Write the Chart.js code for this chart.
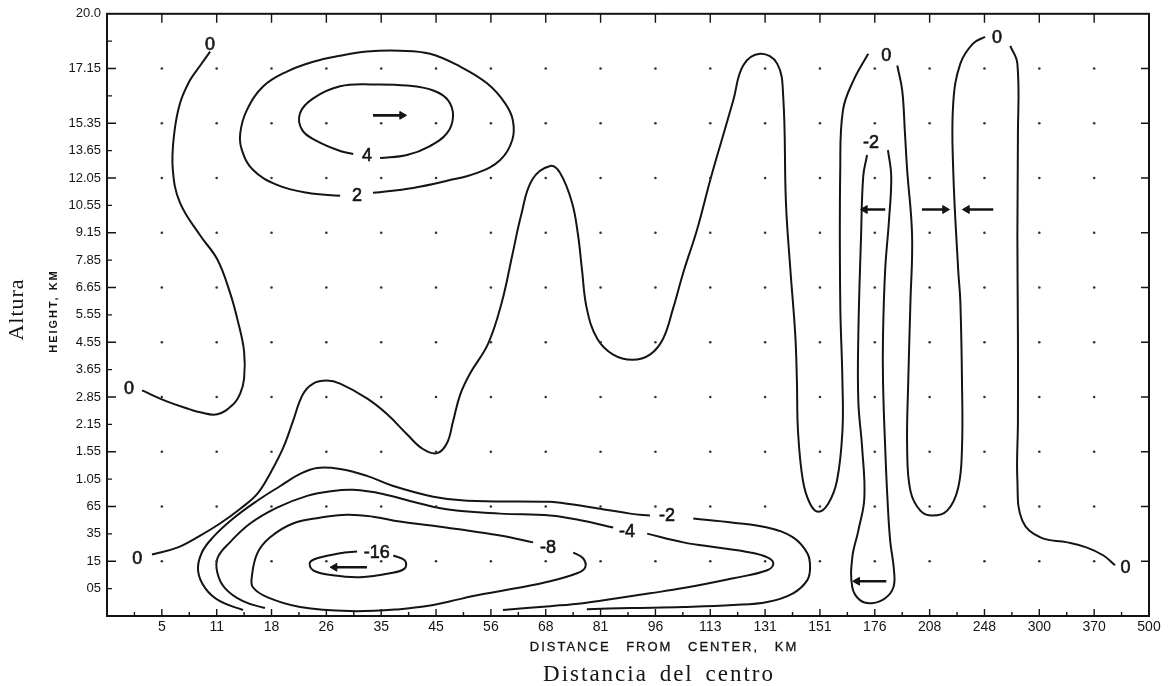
<!DOCTYPE html>
<html lang="en">
<head>
<meta charset="UTF-8">
<title>Distance from center vs height</title>
<script src="https://cdn.jsdelivr.net/npm/chart.js@4.4.1/dist/chart.umd.min.js"></script>
<style>
  html, body { margin: 0; padding: 0; background: #fff; }
  #wrap { width: 1172px; height: 686px; position: relative; }
</style>
</head>
<body>
<div id="wrap"><canvas id="chart"></canvas></div>
<script>
// The scan puts its ticks at even spacing although the values are not linear,
// so both axes run over tick index and the labels come from these lists.
const distanceTicks = ['', '5', '11', '18', '26', '35', '45', '56', '68', '81', '96',
  '113', '131', '151', '176', '208', '248', '300', '370', '500'];
const heightTicks = ['', '05', '15', '35', '65', '1.05', '1.55', '2.15', '2.85', '3.65',
  '4.55', '5.55', '6.65', '7.85', '9.15', '10.55', '12.05', '13.65', '15.35', '', '17.15', '', '20.0'];

// analysis grid (tick indices)
const gridCols = [1, 2, 3, 4, 5, 6, 7, 8, 9, 10, 11, 12, 13, 14, 15, 16, 17, 18];
const gridRows = [2, 4, 6, 8, 10, 12, 14, 16, 18, 20];

// contour lines, [distance index, height index]
const zeroTopLeft = [[1.88,20.62],[1.70,20.11],[1.51,19.56],[1.33,18.72],[1.22,17.53],[1.20,16.30],
  [1.33,15.10],[1.70,13.90],[2.01,13.03],[2.24,11.83],[2.39,10.74],[2.50,9.66],[2.50,8.68],[2.43,8.13],
  [2.30,7.73],[2.01,7.37],[1.70,7.44],[1.51,7.55],[1.09,7.84],[0.64,8.24]];
const plusTwo = [[4.85,15.46],[5.58,15.64],[6.20,15.90],[6.75,16.19],[7.17,16.66],[7.39,17.39],[7.40,18.11],
  [7.26,18.73],[6.93,19.46],[6.44,20.07],[5.89,20.54],[5.34,20.65],[4.74,20.62],[4.25,20.47],[3.76,20.25],
  [3.28,19.89],[2.85,19.35],[2.55,18.48],[2.43,17.64],[2.46,17.02],[2.66,16.30],[3.10,15.75],[3.65,15.46],[4.25,15.35]];
const plusFour = [[4.98,16.73],[5.47,16.84],[5.89,17.17],[6.20,17.64],[6.31,18.26],[6.22,18.84],[5.95,19.20],
  [5.47,19.38],[4.85,19.42],[4.25,19.35],[3.76,18.91],[3.52,18.37],[3.56,17.75],[3.83,17.35],[4.25,16.99],[4.49,16.88]];
const zeroMain = [[0.82,2.25],[1.28,2.50],[1.70,2.94],[2.06,3.38],[2.43,3.92],[2.74,4.46],[2.97,5.19],[3.21,6.13],
  [3.39,7.11],[3.57,8.09],[3.76,8.49],[4.01,8.60],[4.25,8.49],[4.74,7.95],[5.11,7.37],[5.47,6.64],[5.76,6.10],
  [6.02,5.95],[6.20,6.32],[6.31,7.11],[6.44,8.09],[6.62,8.86],[6.95,9.95],[7.20,11.47],[7.39,13.18],[7.55,14.63],
  [7.75,15.93],[8.08,16.44],[8.26,16.19],[8.48,15.10],[8.59,13.90],[8.66,12.67],[8.75,11.22],[8.94,10.13],
  [9.23,9.55],[9.58,9.36],[9.90,9.55],[10.14,10.13],[10.32,11.22],[10.51,12.56],[10.76,14.12],[11.00,15.93],
  [11.23,17.53],[11.42,18.84],[11.60,20.11],[11.91,20.54],[12.22,20.18],[12.33,18.98],[12.38,15.10],[12.46,12.67],
  [12.55,10.27],[12.58,8.57],[12.60,6.75],[12.69,4.94],[12.82,4.10],[12.97,3.81],[13.15,4.10],[13.31,4.94],
  [13.41,6.75],[13.41,8.57],[13.37,11.47],[13.37,16.30],[13.42,18.48],[13.61,19.56],[13.88,20.54]];
const zeroFinger = [[14.41,20.11],[14.50,19.20],[14.55,17.64],[14.59,16.30],[14.68,13.90],[14.65,11.47],
  [14.61,8.57],[14.59,6.13],[14.65,4.57],[14.83,3.85],[15.05,3.67],[15.32,3.85],[15.52,4.68],[15.59,6.13],
  [15.59,8.57],[15.56,11.47],[15.52,12.67],[15.43,16.30],[15.43,18.73],[15.56,20.18],[15.79,20.91],[16.01,21.16]];
const zeroOuter = [[16.47,20.83],[16.60,20.18],[16.61,17.53],[16.60,13.90],[16.61,10.27],[16.61,7.11],
  [16.60,4.94],[16.69,3.48],[17.02,2.87],[17.51,2.69],[17.87,2.50],[18.17,2.21],[18.38,1.85]];
const minusTwoFinger = [[13.86,16.84],[13.79,16.08],[13.75,13.90],[13.70,10.27],[13.70,7.84],[13.77,6.13],
  [13.81,4.32],[13.70,3.12],[13.59,2.14],[13.59,1.05],[13.73,0.58],[13.95,0.47],[14.19,0.65],[14.34,1.05],
  [14.35,1.67],[14.28,2.76],[14.23,4.32],[14.19,6.13],[14.15,8.57],[14.15,10.27],[14.19,12.67],[14.26,14.48],
  [14.30,16.08],[14.24,17.02]];
const minusTwoLeft = [[2.48,0.22],[2.06,0.54],[1.79,1.02],[1.66,1.67],[1.73,2.32],[1.93,2.87],[2.30,3.56],
  [2.74,4.21],[3.16,4.75],[3.52,5.19],[3.83,5.41],[4.25,5.37],[4.74,5.12],[5.22,4.75],[5.95,4.36],[6.57,4.21],
  [8.08,4.17],[8.39,4.10],[8.99,3.92],[9.54,3.74],[9.90,3.67]];
const minusTwoRight = [[10.69,3.56],[11.42,3.41],[12.04,3.23],[12.51,2.87],[12.77,2.29],[12.82,1.78],
  [12.77,1.31],[12.51,0.83],[12.04,0.51],[11.42,0.40],[10.51,0.33],[9.54,0.29],[8.75,0.25]];
const minusFourLeft = [[2.88,0.29],[2.48,0.54],[2.15,1.02],[2.01,1.60],[2.02,2.14],[2.24,2.69],[2.61,3.38],
  [3.10,3.96],[3.65,4.39],[4.12,4.57],[4.49,4.61],[5.03,4.46],[5.65,4.14],[6.26,3.88],[7.17,3.74],[8.08,3.67],
  [8.68,3.48],[9.23,3.23]];
const minusFourRight = [[9.85,3.01],[10.51,2.69],[11.13,2.50],[11.73,2.32],[12.04,2.14],[12.15,1.92],
  [12.04,1.67],[11.42,1.38],[10.51,1.02],[9.90,0.83],[9.30,0.65],[8.68,0.47],[8.08,0.36],[7.22,0.22]];
const minusEight = [[8.50,2.32],[8.68,2.11],[8.72,1.78],[8.57,1.56],[8.08,1.27],[7.48,1.02],[6.86,0.80],
  [6.26,0.54],[5.95,0.40],[5.34,0.25],[4.43,0.18],[3.52,0.33],[2.92,0.69],[2.66,1.05],[2.64,1.42],[2.74,2.29],
  [2.97,2.87],[3.39,3.38],[3.88,3.59],[4.38,3.70],[4.85,3.63],[5.34,3.45],[5.95,3.30],[6.57,3.12],[7.17,2.94],[7.77,2.69]];
const minusSixteen = [[5.22,2.21],[5.43,2.03],[5.43,1.74],[5.16,1.56],[4.61,1.42],[4.12,1.49],[3.76,1.67],
  [3.70,1.96],[3.88,2.14],[4.25,2.29],[4.56,2.36]];

const contourLines = [zeroTopLeft, plusTwo, plusFour, zeroMain, zeroFinger, zeroOuter, minusTwoFinger,
  minusTwoLeft, minusTwoRight, minusFourLeft, minusFourRight, minusEight, minusSixteen];

// contour values written on the lines
const contourLabels = [
  { text: '0', x: 1.88, y: 20.87 }, { text: '0', x: 0.40, y: 8.28 }, { text: '0', x: 0.55, y: 2.07 },
  { text: '2', x: 4.56, y: 15.35 }, { text: '4', x: 4.74, y: 16.81 },
  { text: '0', x: 14.21, y: 20.47 }, { text: '0', x: 16.23, y: 21.12 }, { text: '0', x: 18.57, y: 1.74 },
  { text: '-2', x: 13.93, y: 17.28 }, { text: '-2', x: 10.21, y: 3.67 }, { text: '-4', x: 9.48, y: 3.05 },
  { text: '-8', x: 8.04, y: 2.50 }, { text: '-16', x: 4.92, y: 2.29 }
];

// wind arrows: tail -> head
const arrowTails = [[4.85,18.29],[4.74,1.78],[14.21,1.27],[14.19,14.85],[14.86,14.85],[16.16,14.85]];
const arrowHeads = [[5.38,18.29],[4.15,1.78],[13.68,1.27],[13.82,14.85],[15.28,14.85],[15.68,14.85]];

const INK = '#141414';
const datasets = [];

datasets.push({
  data: gridCols.flatMap(c => gridRows.map(r => ({ x: c, y: r }))),
  pointRadius: 1.3, pointBackgroundColor: '#333', pointBorderWidth: 0, showLine: false
});

contourLines.forEach(line => {
  datasets.push({
    data: line.map(p => ({ x: p[0], y: p[1] })),
    showLine: true, borderColor: INK, borderWidth: 2, pointRadius: 0, tension: 0.4, fill: false
  });
});

arrowTails.forEach((t, i) => {
  const h = arrowHeads[i];
  datasets.push({
    data: [{ x: t[0], y: t[1] }, { x: h[0], y: h[1] }],
    showLine: true, borderColor: INK, borderWidth: 2.6, tension: 0,
    pointRadius: [0, 4.5], pointStyle: 'triangle', pointRotation: h[0] > t[0] ? 90 : -90,
    pointBackgroundColor: INK, pointBorderColor: INK, pointBorderWidth: 1
  });
});

const frameTicks = {
  id: 'frameTicks',
  afterDatasetsDraw(chart) {
    const { ctx, chartArea: a, scales: { x, y } } = chart;
    ctx.save();
    ctx.strokeStyle = INK;
    ctx.lineWidth = 2;
    ctx.strokeRect(a.left, a.top, a.right - a.left, a.bottom - a.top);
    ctx.lineWidth = 1.4;
    ctx.beginPath();
    for (let i = 0.5; i < distanceTicks.length - 1; i += 0.5) {
      const px = x.getPixelForValue(i);
      const major = Number.isInteger(i);
      ctx.moveTo(px, a.bottom);
      ctx.lineTo(px, a.bottom - (major ? 7 : 4));
      if (major) { ctx.moveTo(px, a.top); ctx.lineTo(px, a.top + 9); }
    }
    for (let j = 1; j < heightTicks.length - 1; j++) {
      const py = y.getPixelForValue(j);
      const major = j % 2 === 0;
      ctx.moveTo(a.left, py);
      ctx.lineTo(a.left + (major ? 9 : 5), py);
      if (major) { ctx.moveTo(a.right, py); ctx.lineTo(a.right - 8, py); }
    }
    ctx.stroke();
    ctx.restore();
  }
};

const textLayer = {
  id: 'textLayer',
  afterDraw(chart) {
    const { ctx, scales: { x, y } } = chart;
    ctx.save();
    ctx.fillStyle = INK;
    ctx.strokeStyle = INK;
    ctx.textAlign = 'center';
    ctx.textBaseline = 'middle';
    ctx.font = '18px "Liberation Sans"';
    ctx.lineWidth = 0.6;
    contourLabels.forEach(l => {
      const px = x.getPixelForValue(l.x), py = y.getPixelForValue(l.y);
      ctx.fillText(l.text, px, py);
      ctx.strokeText(l.text, px, py);
    });

    // axis titles (letter spaced like the original lettering)
    ctx.font = '13px "Liberation Sans"';
    ctx.letterSpacing = '2px';
    ctx.wordSpacing = '10px';
    ctx.lineWidth = 0.3;
    ctx.fillText('DISTANCE FROM CENTER, KM', 663 + 1, 647);
    ctx.strokeText('DISTANCE FROM CENTER, KM', 663 + 1, 647);
    ctx.wordSpacing = '0px';
    ctx.font = 'bold 11px "Liberation Sans"';
    ctx.letterSpacing = '2px';
    ctx.save();
    ctx.translate(54, 312);
    ctx.rotate(-Math.PI / 2);
    ctx.fillText('HEIGHT, KM', 1, 0);
    ctx.restore();

    ctx.font = '23px "Liberation Serif"';
    ctx.letterSpacing = '2px';
    ctx.wordSpacing = '4px';
    ctx.textBaseline = 'alphabetic';
    ctx.fillText('Distancia del centro', 658 + 1, 681);
    ctx.wordSpacing = '0px';
    ctx.save();
    ctx.translate(23, 310);
    ctx.rotate(-Math.PI / 2);
    ctx.font = '22px "Liberation Serif"';
    ctx.letterSpacing = '1px';
    ctx.fillText('Altura', 0.5, 0);
    ctx.restore();
    ctx.restore();
  }
};

new Chart(document.getElementById('chart'), {
  type: 'scatter',
  data: { datasets },
  options: {
    responsive: true,
    maintainAspectRatio: false,
    animation: false,
    layout: { padding: { left: 0, right: 23, top: 10, bottom: 0 } },
    plugins: { legend: { display: false }, tooltip: { enabled: false } },
    scales: {
      x: {
        type: 'linear', min: 0, max: distanceTicks.length - 1,
        grid: { display: false, drawTicks: false }, border: { display: false },
        ticks: {
          stepSize: 1, autoSkip: false, maxRotation: 0, padding: 3, color: INK,
          font: { family: 'Liberation Sans', size: 14 },
          callback: v => distanceTicks[v] ?? ''
        },
        afterFit: s => { s.height = 70; }
      },
      y: {
        type: 'linear', min: 0, max: heightTicks.length - 1,
        grid: { display: false, drawTicks: false }, border: { display: false },
        ticks: {
          stepSize: 1, autoSkip: false, padding: 6, color: INK,
          font: { family: 'Liberation Sans', size: 13 },
          callback: v => heightTicks[v] ?? ''
        },
        afterFit: s => { s.width = 107; }
      }
    }
  },
  plugins: [frameTicks, textLayer]
});
</script>
</body>
</html>
